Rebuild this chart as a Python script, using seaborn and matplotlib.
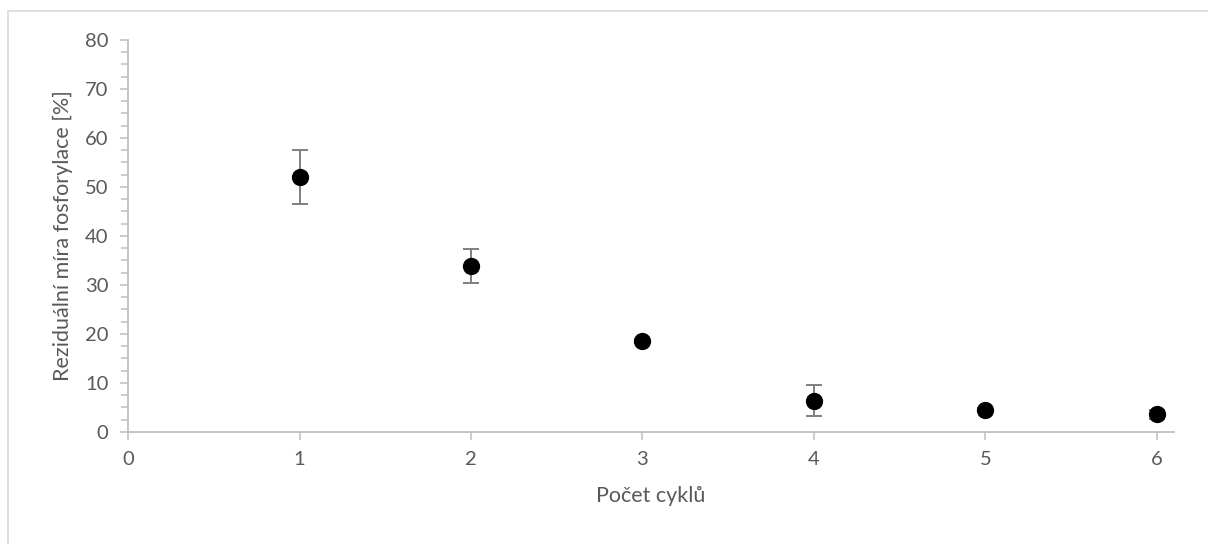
import numpy as np
import pandas as pd
import seaborn as sns
import matplotlib.pyplot as plt
from matplotlib.ticker import MultipleLocator
from matplotlib.patches import Rectangle

# data
cycles = [1, 2, 3, 4, 5, 6]
residual = [52.0, 33.9, 18.5, 6.3, 4.5, 3.6]
err_low = [5.4, 3.4, 0.4, 3.1, 0.4, 1.0]
err_high = [5.5, 3.4, 0.4, 3.2, 0.4, 0.9]

df = pd.DataFrame({"cycles": cycles, "residual": residual})

sns.set_theme(style="white")
plt.rcParams['font.family'] = ['Lato', 'DejaVu Sans']

grey_axis = "#BFBFBF"
grey_text = "#595959"

fig = plt.figure(figsize=(12.08, 5.44), dpi=100)
ax = fig.add_axes([0.106, 0.2059, 0.8659, 0.7206])

ax.errorbar(df["cycles"], df["residual"], yerr=[err_low, err_high], fmt="none",
            ecolor="#7F7F7F", elinewidth=1.4, capsize=6, capthick=1.4, zorder=2)
sns.scatterplot(data=df, x="cycles", y="residual", ax=ax, color="black",
                s=155, edgecolor="black", linewidth=0, zorder=3)

ax.set_xlim(0, 6.1)
ax.set_ylim(0, 80)
ax.xaxis.set_major_locator(MultipleLocator(1))
ax.yaxis.set_major_locator(MultipleLocator(10))
ax.yaxis.set_minor_locator(MultipleLocator(2.5))

for s in ["top", "right"]:
    ax.spines[s].set_visible(False)
for s in ["left", "bottom"]:
    ax.spines[s].set_color(grey_axis)
    ax.spines[s].set_linewidth(1.3)

ax.tick_params(axis="both", which="both", direction="out", color=grey_axis,
               width=1.1, length=6, labelcolor=grey_text, labelsize=14.5)
ax.tick_params(axis="x", which="major", bottom=True, pad=8)
ax.tick_params(axis="x", which="minor", bottom=False)
ax.tick_params(axis="y", which="major", left=True, pad=8)
ax.tick_params(axis="y", which="minor", left=True, length=5)

ax.set_xlabel("Počet cyklů", fontsize=15.5, color=grey_text, labelpad=13)
ax.set_ylabel("Reziduální míra fosforylace [%]", fontsize=15.5, color=grey_text, labelpad=9)

# chart area border
fig.patches.append(Rectangle((8 / 1208, -0.1), 1.2, (544 - 11) / 544 + 0.1,
                             transform=fig.transFigure, fill=False,
                             edgecolor="#D9D9D9", linewidth=1.2))

plt.savefig("out.png", dpi=100)
